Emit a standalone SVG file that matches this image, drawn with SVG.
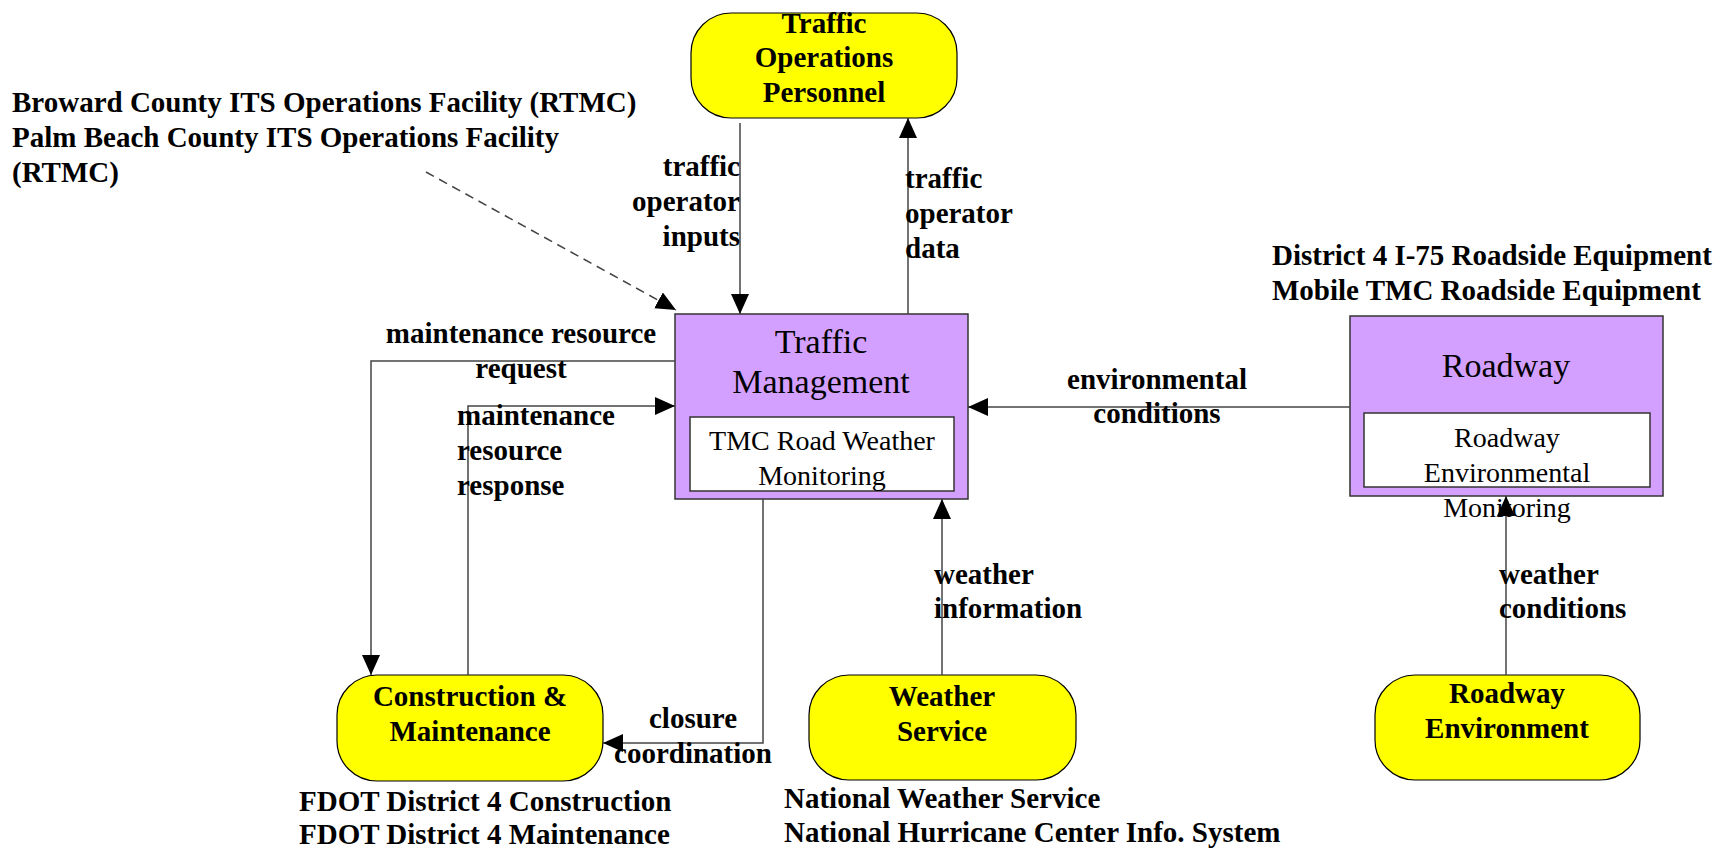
<svg xmlns="http://www.w3.org/2000/svg" width="1721" height="848" viewBox="0 0 1721 848">
<style>
text{font-family:"Liberation Serif","Times New Roman",serif;fill:#000}
.b{font-weight:bold;font-size:29px}
.t{font-size:34px}
.s{font-size:28px}
.term{fill:#FFFF00;stroke:#000;stroke-width:1.2}
.sys{fill:#D4A0FF;stroke:#333;stroke-width:1.5}
.in{fill:#FFFFFF;stroke:#333;stroke-width:1.5}
.c{fill:none;stroke:#444;stroke-width:1.5}
.m{text-anchor:middle}
.e{text-anchor:end}
</style>
<defs>
<marker id="ah" markerUnits="userSpaceOnUse" markerWidth="22" markerHeight="20" refX="20" refY="9" orient="auto">
<path d="M0,0 L20,9 L0,18 Z" fill="#000"/>
</marker>
</defs>
<rect width="1721" height="848" fill="#FFFFFF"/>

<g id="traffic-operations-personnel">
<rect class="term" x="691" y="13" width="266" height="105" rx="40" ry="40"/>
<text class="b m" x="824" y="33">Traffic</text>
<text class="b m" x="824" y="67">Operations</text>
<text class="b m" x="824" y="102">Personnel</text>
</g>

<g id="traffic-management">
<rect class="sys" x="675" y="314" width="293" height="185"/>
<text class="t m" x="821" y="353">Traffic</text>
<text class="t m" x="821" y="393">Management</text>
<rect class="in" x="690" y="417" width="264" height="74"/>
<text class="s m" x="822" y="450">TMC Road Weather</text>
<text class="s m" x="822" y="485">Monitoring</text>
</g>

<g id="roadway">
<text class="b" x="1272" y="265">District 4 I-75 Roadside Equipment</text>
<text class="b" x="1272" y="300">Mobile TMC Roadside Equipment</text>
<rect class="sys" x="1350" y="316" width="313" height="180"/>
<text class="t m" x="1506" y="377">Roadway</text>
<rect class="in" x="1364" y="413" width="286" height="74"/>
<text class="s m" x="1507" y="447">Roadway</text>
<text class="s m" x="1507" y="482">Environmental</text>
<text class="s m" x="1507" y="517">Monitoring</text>
</g>

<g id="broward-label">
<text class="b" x="12" y="112">Broward County ITS Operations Facility (RTMC)</text>
<text class="b" x="12" y="147">Palm Beach County ITS Operations Facility</text>
<text class="b" x="12" y="182">(RTMC)</text>
</g>

<g id="construction-maintenance">
<rect class="term" x="337" y="675" width="266" height="106" rx="40" ry="40"/>
<text class="b m" x="470" y="706">Construction &amp;</text>
<text class="b m" x="470" y="741">Maintenance</text>
<text class="b" x="299" y="811">FDOT District 4 Construction</text>
<text class="b" x="299" y="844">FDOT District 4 Maintenance</text>
</g>

<g id="weather-service">
<rect class="term" x="809" y="675" width="267" height="105" rx="40" ry="40"/>
<text class="b m" x="942" y="706">Weather</text>
<text class="b m" x="942" y="741">Service</text>
<text class="b" x="784" y="808">National Weather Service</text>
<text class="b" x="784" y="842">National Hurricane Center Info. System</text>
</g>

<g id="roadway-environment">
<rect class="term" x="1375" y="675" width="265" height="105" rx="40" ry="40"/>
<text class="b m" x="1507" y="703">Roadway</text>
<text class="b m" x="1507" y="738">Environment</text>
</g>

<g id="connectors">
<line class="c" x1="740" y1="123" x2="740" y2="314" marker-end="url(#ah)"/>
<line class="c" x1="908" y1="314" x2="908" y2="118" marker-end="url(#ah)"/>
<line class="c" x1="426" y1="172" x2="676" y2="310" stroke-dasharray="9,6" marker-end="url(#ah)"/>
<polyline class="c" points="675,361 371,361 371,675" marker-end="url(#ah)"/>
<polyline class="c" points="468,675 468,406 675,406" marker-end="url(#ah)"/>
<polyline class="c" points="763,499 763,743 603,743" marker-end="url(#ah)"/>
<line class="c" x1="1350" y1="407" x2="968" y2="407" marker-end="url(#ah)"/>
<line class="c" x1="942" y1="675" x2="942" y2="499" marker-end="url(#ah)"/>
<line class="c" x1="1506" y1="675" x2="1506" y2="496" marker-end="url(#ah)"/>

<text class="b e" x="740" y="176">traffic</text>
<text class="b e" x="740" y="211">operator</text>
<text class="b e" x="740" y="246">inputs</text>

<text class="b" x="905" y="188">traffic</text>
<text class="b" x="905" y="223">operator</text>
<text class="b" x="905" y="258">data</text>

<text class="b m" x="521" y="343">maintenance resource</text>
<text class="b m" x="521" y="378">request</text>

<text class="b" x="457" y="425">maintenance</text>
<text class="b" x="457" y="460">resource</text>
<text class="b" x="457" y="495">response</text>

<text class="b m" x="693" y="728">closure</text>
<text class="b m" x="693" y="763">coordination</text>

<text class="b m" x="1157" y="389">environmental</text>
<text class="b m" x="1157" y="423">conditions</text>

<text class="b" x="934" y="584">weather</text>
<text class="b" x="934" y="618">information</text>

<text class="b" x="1499" y="584">weather</text>
<text class="b" x="1499" y="618">conditions</text>
</g>
</svg>
